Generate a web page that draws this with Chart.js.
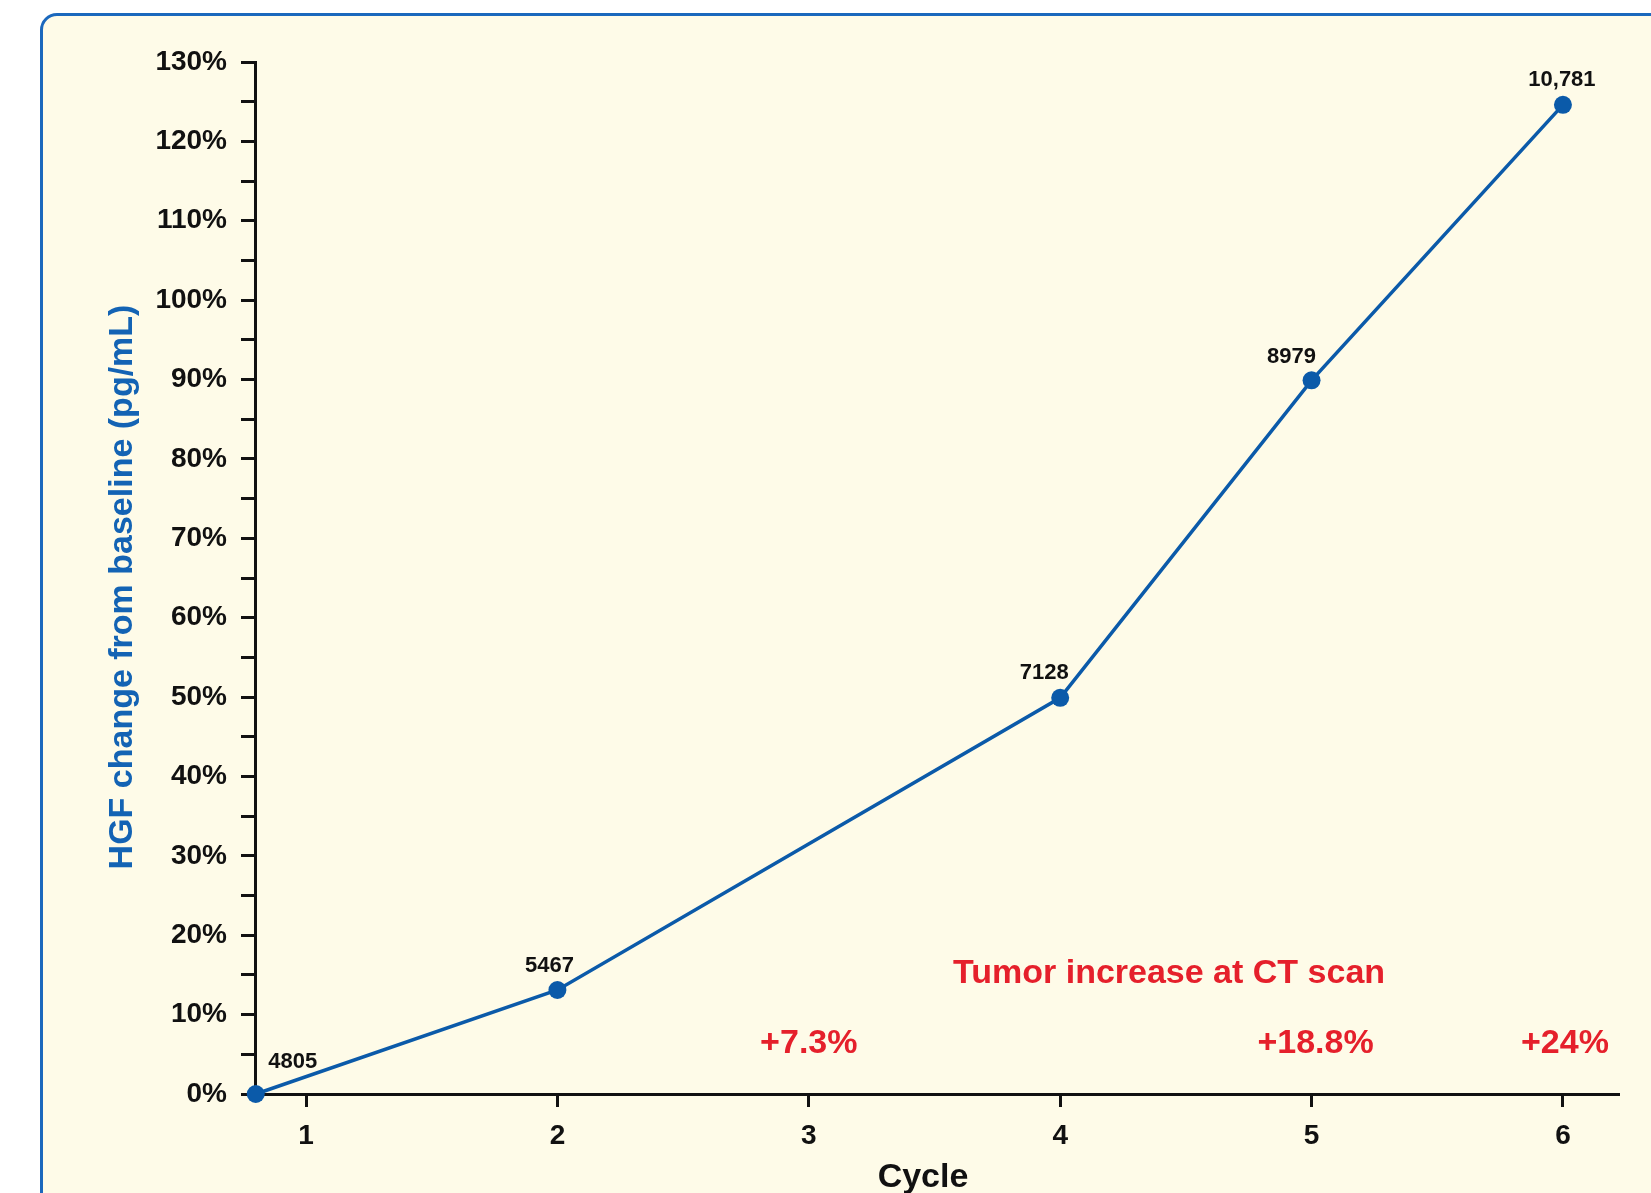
<!DOCTYPE html>
<html>
<head>
<meta charset="utf-8">
<script src="https://cdn.jsdelivr.net/npm/chart.js@4/dist/chart.umd.min.js"></script>
<style>
    html, body { margin: 0; padding: 0; background: #ffffff; overflow: hidden; }
    #painel {
        position: absolute; left: 40px; top: 13px; width: 1700px; height: 1300px;
        background: #fefbe8; border: 3px solid #1b68bd; border-radius: 17px;
    }
    #graficoHGF { position: absolute; left: 0; top: 0; }
</style>
</head>
<body>
<div id="painel"></div>
<canvas id="graficoHGF" width="1651" height="1193"></canvas>
<script>
// dados
const ciclos = [0.8, 2, 4, 5, 6]
const variacaoHGF = [0, 13.1, 49.9, 89.9, 124.6]
const rotulosHGF = ['4805', '5467', '7128', '8979', '10,781']
const ticksCiclo = [1, 2, 3, 4, 5, 6]
const ticksPercentual = [0, 5, 10, 15, 20, 25, 30, 35, 40, 45, 50, 55, 60, 65, 70, 75, 80, 85, 90, 95, 100, 105, 110, 115, 120, 125, 130]
const ciclosTumor = [3, 5, 6]
const aumentoTumor = ['+7.3%', '+18.8%', '+24%']

const fonte = "'Liberation Sans', Arial, sans-serif"
const azul = '#0b5aa9'
const vermelho = '#e5202b'

// deslocamento (px) de cada rotulo em relacao ao ponto
const deslocRotulos = [[37, -32], [-8, -24], [-16, -25], [-20, -23], [-1, -25]]
const deslocTumor = [0, 4, 2]

const rotulosPlugin = {
    id: 'rotulos',
    afterDatasetsDraw(chart) {
        const ctx = chart.ctx
        const x = chart.scales.x
        const y = chart.scales.y
        ctx.save()
        ctx.textAlign = 'center'
        ctx.textBaseline = 'middle'

        ctx.fillStyle = '#111111'
        ctx.font = `bold 22px ${fonte}`
        for (let i = 0; i < ciclos.length; i++) {
            ctx.fillText(rotulosHGF[i],
                x.getPixelForValue(ciclos[i]) + deslocRotulos[i][0],
                y.getPixelForValue(variacaoHGF[i]) + deslocRotulos[i][1])
        }

        ctx.fillStyle = vermelho
        ctx.font = `bold 34px ${fonte}`
        ctx.fillText('Tumor increase at CT scan', x.getPixelForValue(4.433), y.getPixelForValue(15.2))
        for (let i = 0; i < ciclosTumor.length; i++) {
            ctx.fillText(aumentoTumor[i], x.getPixelForValue(ciclosTumor[i]) + deslocTumor[i], y.getPixelForValue(6.4))
        }

        // titulos dos eixos
        ctx.font = `bold 34px ${fonte}`
        ctx.fillStyle = '#111111'
        ctx.fillText('Cycle', 923, 1178)

        ctx.translate(123, 587)
        ctx.rotate(-Math.PI / 2)
        ctx.fillStyle = '#1363b4'
        ctx.fillText('HGF change from baseline (pg/mL)', 0, 0)
        ctx.restore()
    }
}

const graficoHGF = new Chart(document.getElementById('graficoHGF'), {
    type: 'line',
    data: {
        datasets: [{
            label: 'HGF',
            data: ciclos.map((c, i) => ({ x: c, y: variacaoHGF[i] })),
            borderColor: azul,
            backgroundColor: azul,
            borderWidth: 3.5,
            pointRadius: 9,
            pointHoverRadius: 9,
            pointBorderWidth: 0,
            tension: 0,
            clip: false
        }]
    },
    options: {
        responsive: false,
        devicePixelRatio: 1,
        animation: false,
        layout: {
            padding: { left: 0, right: 32, top: 62, bottom: 0 }
        },
        plugins: {
            legend: { display: false },
            tooltip: { enabled: false }
        },
        scales: {
            x: {
                type: 'linear',
                min: 0.797,
                max: 6.223,
                afterBuildTicks: function (scale) {
                    scale.ticks = ticksCiclo.map(v => ({ value: v }))
                },
                afterFit: function (scale) {
                    scale.height = 99
                },
                ticks: {
                    color: '#111111',
                    padding: 12,
                    maxRotation: 0,
                    font: { family: fonte, size: 28, weight: 'bold' }
                },
                grid: {
                    drawOnChartArea: false,
                    drawTicks: true,
                    tickLength: 13,
                    tickWidth: 3,
                    tickColor: '#111111'
                },
                border: { display: true, color: '#111111', width: 3 }
            },
            y: {
                type: 'linear',
                min: 0,
                max: 130,
                afterBuildTicks: function (scale) {
                    scale.ticks = ticksPercentual.map(v => ({ value: v }))
                },
                afterFit: function (scale) {
                    scale.width = 255
                },
                ticks: {
                    color: '#111111',
                    padding: 14,
                    autoSkip: false,
                    font: { family: fonte, size: 28, weight: 'bold' },
                    callback: function (value) {
                        return value % 10 == 0 ? value + '%' : ''
                    }
                },
                grid: {
                    drawOnChartArea: false,
                    drawTicks: true,
                    tickLength: 14,
                    tickWidth: 3,
                    tickColor: '#111111'
                },
                border: { display: true, color: '#111111', width: 3 }
            }
        }
    },
    plugins: [rotulosPlugin]
})
</script>
</body>
</html>
